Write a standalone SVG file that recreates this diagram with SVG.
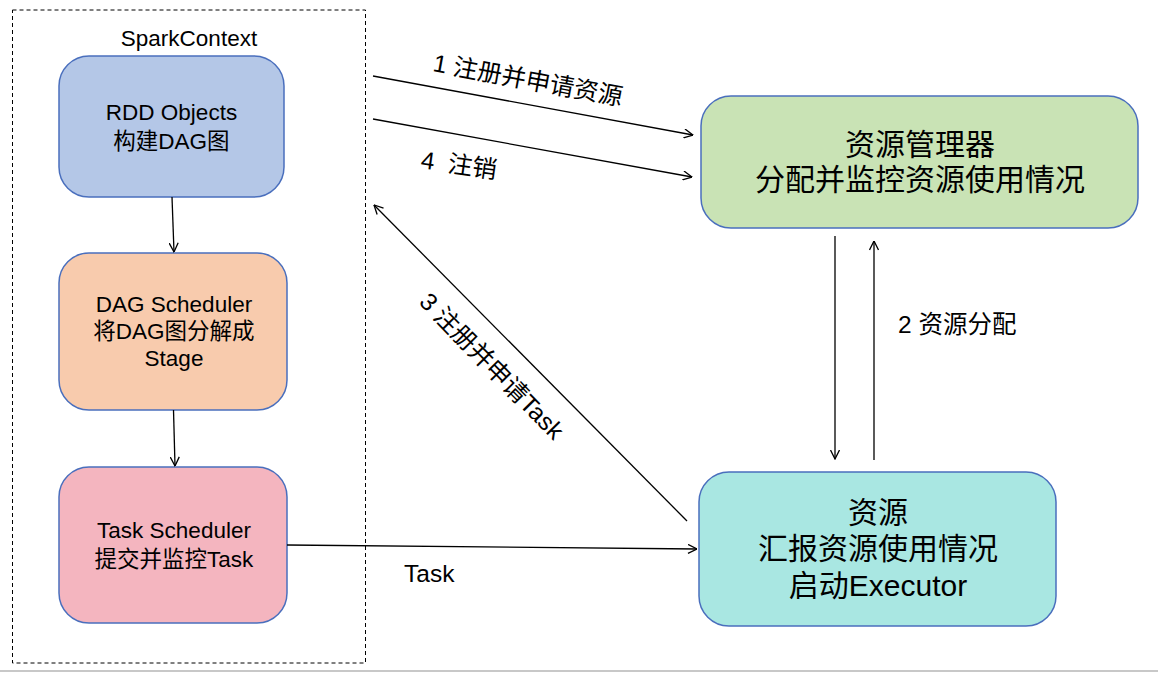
<svg xmlns="http://www.w3.org/2000/svg" width="1158" height="673" viewBox="0 0 1158 673">
<defs>
<marker id="arr" viewBox="0 0 10 10" refX="9.5" refY="5" markerWidth="10" markerHeight="10" markerUnits="userSpaceOnUse" orient="auto">
<path d="M0.5,0.5 L9.5,5 L0.5,9.5" fill="none" stroke="#000" stroke-width="1.3"/>
</marker>
</defs>
<style>
text{font-family:"Liberation Sans","Noto Sans CJK SC",sans-serif;fill:#000}
.node{stroke:#4A6FBD;stroke-width:1.5}
.big{font-size:30px}
.mid{font-size:22.5px}
.lbl{font-size:24.5px}
.conn line{stroke:#000;stroke-width:1.3;fill:none}
</style>
<rect width="1158" height="673" fill="#fff"/>
<line x1="0" y1="671" x2="1158" y2="671" stroke="#C8C8C8" stroke-width="2"/>
<g id="sparkcontext">
<rect x="12.5" y="10" width="353" height="653" fill="none" stroke="#000" stroke-width="1" stroke-dasharray="4,3"/>
<text x="189" y="46" class="mid" text-anchor="middle">SparkContext</text>
</g>
<g id="rdd">
<rect class="node" x="59" y="56" width="225" height="141" rx="30" fill="#B4C7E7"/>
<text x="171.5" y="120" class="mid" text-anchor="middle">RDD Objects</text>
<text x="171.5" y="149" class="mid" text-anchor="middle">构建DAG图</text>
</g>
<g id="dag">
<rect class="node" x="59" y="253" width="228" height="157" rx="30" fill="#F8CBAD"/>
<text x="174" y="312" class="mid" text-anchor="middle">DAG Scheduler</text>
<text x="174" y="339" class="mid" text-anchor="middle">将DAG图分解成</text>
<text x="174" y="366" class="mid" text-anchor="middle">Stage</text>
</g>
<g id="task">
<rect class="node" x="59" y="467" width="228" height="156" rx="30" fill="#F4B5BF"/>
<text x="174" y="538" class="mid" text-anchor="middle">Task Scheduler</text>
<text x="174" y="567" class="mid" text-anchor="middle">提交并监控Task</text>
</g>
<g id="rm">
<rect class="node" x="701" y="96" width="437" height="132" rx="30" fill="#C9E3B5"/>
<text x="920" y="155" class="big" text-anchor="middle">资源管理器</text>
<text x="920" y="190" class="big" text-anchor="middle">分配并监控资源使用情况</text>
</g>
<g id="worker">
<rect class="node" x="699" y="472" width="357" height="154" rx="30" fill="#A9E7E2"/>
<text x="878" y="523" class="big" text-anchor="middle">资源</text>
<text x="878" y="559" class="big" text-anchor="middle">汇报资源使用情况</text>
<text x="878" y="596" class="big" text-anchor="middle">启动Executor</text>
</g>
<g id="connectors" class="conn">
<line x1="172" y1="197" x2="174" y2="252" marker-end="url(#arr)"/>
<line x1="173.5" y1="410" x2="175" y2="466" marker-end="url(#arr)"/>
<line x1="373" y1="76" x2="693" y2="135" marker-end="url(#arr)"/>
<line x1="373" y1="119" x2="692" y2="177" marker-end="url(#arr)"/>
<line x1="687" y1="521" x2="374" y2="205" marker-end="url(#arr)"/>
<line x1="835" y1="236" x2="835" y2="459" marker-end="url(#arr)"/>
<line x1="874" y1="460" x2="874" y2="241" marker-end="url(#arr)"/>
<line x1="287" y1="545" x2="697" y2="549" marker-end="url(#arr)"/>
</g>
<g id="labels">
<text class="lbl" transform="translate(432,71) rotate(10.4)">1 注册并申请资源</text>
<text class="lbl" transform="translate(420,168) rotate(8)" xml:space="preserve">4  注销</text>
<text class="lbl" transform="translate(418,303) rotate(45.5)">3 注册并申请Task</text>
<text class="lbl" x="898" y="333">2 资源分配</text>
<text class="lbl" x="404" y="582">Task</text>
</g>
</svg>
